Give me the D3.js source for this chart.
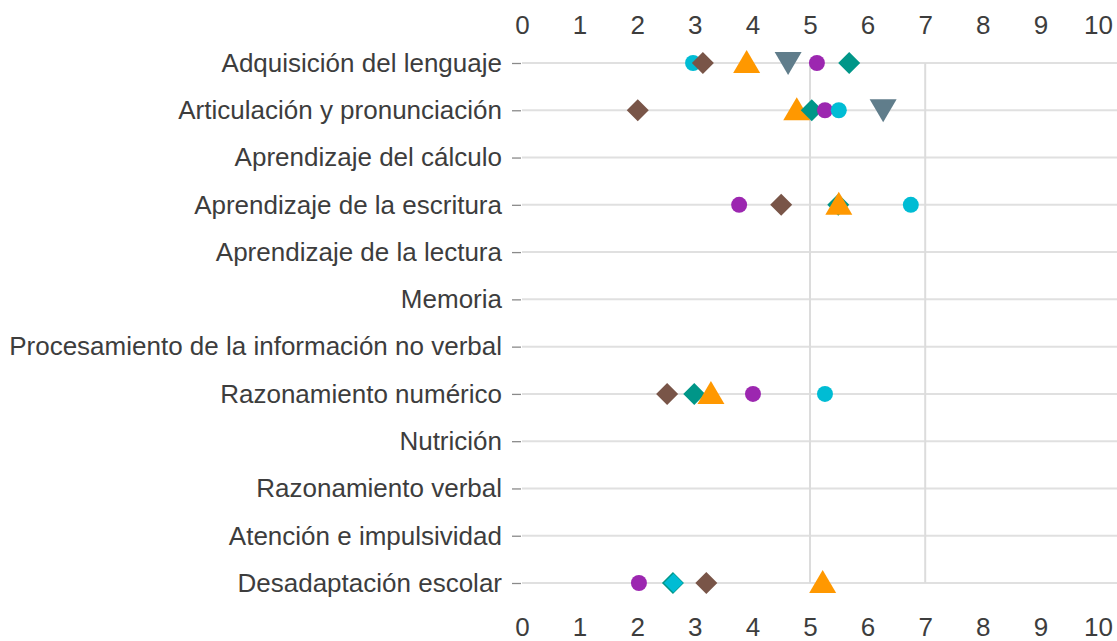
<!DOCTYPE html>
<html><head><meta charset="utf-8">
<script src="https://cdn.jsdelivr.net/npm/d3@7"></script>
<style>
html,body{margin:0;padding:0;background:#fff;}
svg{display:block;}
text{font-family:"Liberation Sans",Arial,sans-serif;}
</style></head>
<body>
<svg id="chart" width="1117" height="641"></svg>
<script>
const categories = [
  "Adquisición del lenguaje",
  "Articulación y pronunciación",
  "Aprendizaje del cálculo",
  "Aprendizaje de la escritura",
  "Aprendizaje de la lectura",
  "Memoria",
  "Procesamiento de la información no verbal",
  "Razonamiento numérico",
  "Nutrición",
  "Razonamiento verbal",
  "Atención e impulsividad",
  "Desadaptación escolar"
];
const xTicks = [0,1,2,3,4,5,6,7,8,9,10];
const refLines = [5, 7];

// one value per category (null = no point)
const cyanValues   = [2.97, 5.50, null, 6.75, null, null, null, 5.26, null, null, null, 2.63];
const cyanShapes   = ["circle","circle",null,"circle",null,null,null,"circle",null,null,null,"diamondSmall"];
const brownValues  = [3.14, 2.01, null, 4.50, null, null, null, 2.52, null, null, null, 3.20];
const orangeValues = [3.90, 4.77, null, 5.50, null, null, null, 3.28, null, null, null, 5.22];
const grayValues   = [4.62, 6.27, null, null, null, null, null, null, null, null, null, null];
const purpleValues = [5.12, 5.26, null, 3.77, null, null, null, 4.01, null, null, null, 2.03];
const tealValues   = [5.68, 5.03, null, 5.49, null, null, null, 2.99, null, null, null, 2.62];

const series = [
  {name:"cyan",   color:"#00bcd4", shape:"circle",       values:cyanValues, shapes:cyanShapes},
  {name:"brown",  color:"#795548", shape:"diamond",      values:brownValues},
  {name:"orange", color:"#ff9800", shape:"triangleUp",   values:orangeValues},
  {name:"gray",   color:"#607d8b", shape:"triangleDown", values:grayValues},
  {name:"purple", color:"#9c27b0", shape:"circle",       values:purpleValues},
  {name:"teal",   color:"#009688", shape:"diamond",      values:tealValues}
];

const svg = d3.select("#chart");
const x = d3.scaleLinear().domain([0,10]).range([522,1098]);
const y = d3.scalePoint().domain(categories).range([63,583]);

const textColor = "#3d3d3d";
const fontSize = "26px";

// horizontal gridlines
svg.append("g").selectAll("line").data(categories).join("line")
  .attr("x1", 522).attr("x2", 1117)
  .attr("y1", d=>y(d)).attr("y2", d=>y(d))
  .attr("stroke", "#e0e0e0").attr("stroke-width", 2);

// reference vertical lines
svg.append("g").selectAll("line").data(refLines).join("line")
  .attr("x1", d=>x(d)).attr("x2", d=>x(d))
  .attr("y1", y(categories[0])).attr("y2", y(categories[categories.length-1]))
  .attr("stroke", "#dcdcdc").attr("stroke-width", 2);

// left axis
const yAxis = svg.append("g").attr("transform","translate(521,0)")
  .call(d3.axisLeft(y).tickSize(9).tickPadding(10));
yAxis.select(".domain").remove();
yAxis.selectAll(".tick line").attr("stroke","#8a8a8a").attr("stroke-width",1.3);
yAxis.selectAll(".tick text").attr("fill",textColor).style("font-size",fontSize)
  .attr("font-family","Liberation Sans, Arial, sans-serif");

// top & bottom axes
const topAxis = svg.append("g").attr("transform","translate(0,34)")
  .call(d3.axisTop(x).tickValues(xTicks).tickSize(0).tickPadding(0).tickFormat(d3.format("d")));
topAxis.select(".domain").remove();
topAxis.selectAll(".tick text").attr("fill",textColor).style("font-size",fontSize)
  .attr("font-family","Liberation Sans, Arial, sans-serif");

const botAxis = svg.append("g").attr("transform","translate(0,618)")
  .call(d3.axisBottom(x).tickValues(xTicks).tickSize(0).tickPadding(0).tickFormat(d3.format("d")));
botAxis.select(".domain").remove();
botAxis.selectAll(".tick text").attr("fill",textColor).style("font-size",fontSize)
  .attr("font-family","Liberation Sans, Arial, sans-serif");

// symbol paths
function shapePath(shape){
  switch(shape){
    case "circle": return "M8,0A8,8 0 1,1 -8,0A8,8 0 1,1 8,0Z";
    case "diamond": return "M0,-11L11,0L0,11L-11,0Z";
    case "diamondSmall": return "M0,-9.5L9.5,0L0,9.5L-9.5,0Z";
    case "triangleUp": return "M0,-13L13.5,10L-13.5,10Z";
    case "triangleDown": return "M0,12L13.5,-11L-13.5,-11Z";
  }
}

// collect points; draw sorted by value within each row (larger on top)
const points = [];
series.forEach(s => {
  s.values.forEach((v,i) => {
    if (v == null) return;
    points.push({cat:categories[i], value:v, color:s.color,
      shape: s.shapes ? s.shapes[i] : s.shape});
  });
});
points.sort((a,b)=>a.value-b.value);

svg.append("g").selectAll("path").data(points).join("path")
  .attr("transform", d=>`translate(${x(d.value)},${y(d.cat)})`)
  .attr("d", d=>shapePath(d.shape))
  .attr("fill", d=>d.color);
</script>
</body></html>
